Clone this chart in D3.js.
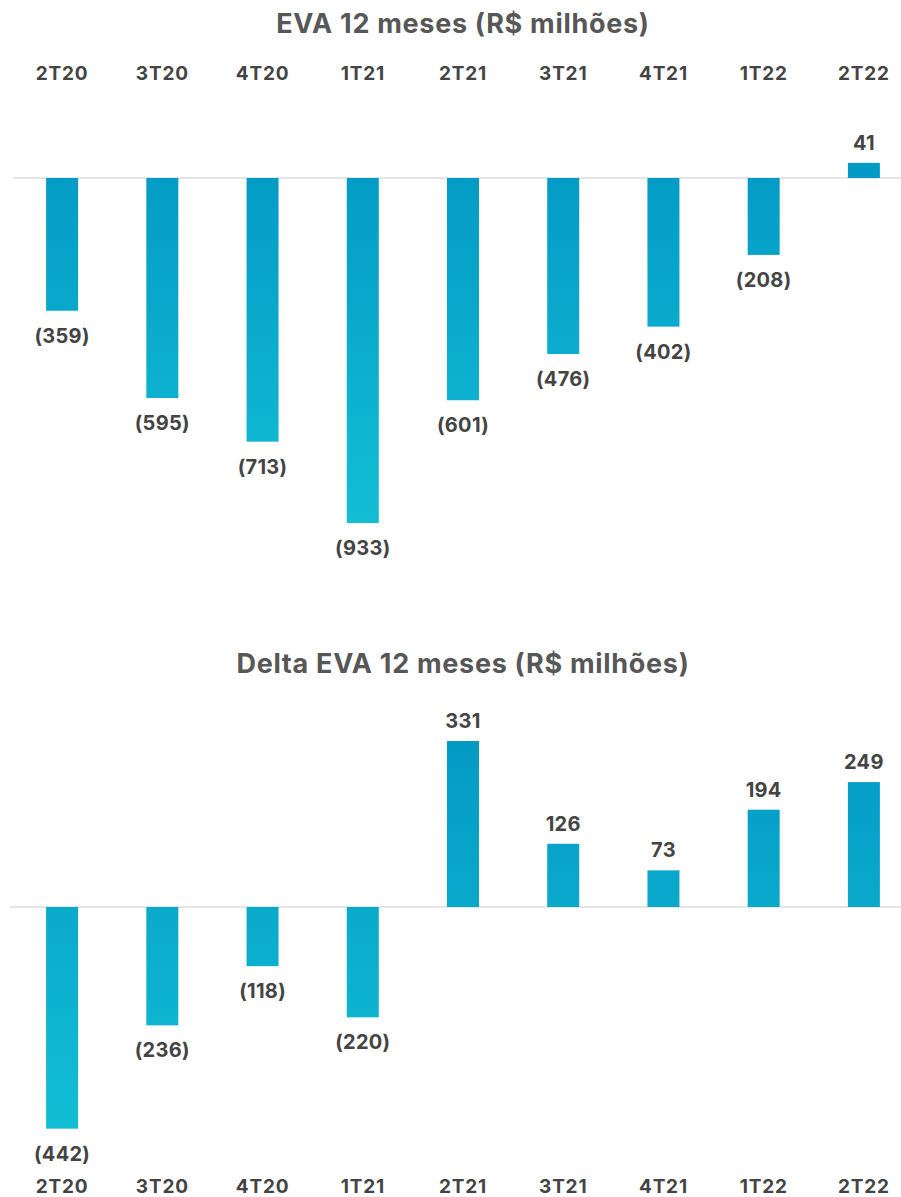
<!DOCTYPE html>
<html><head><meta charset="utf-8">
<script src="https://cdn.jsdelivr.net/npm/d3@7"></script>
<style>
html,body{margin:0;padding:0;background:#fff;}
svg{display:block;font-family:Inter,"Open Sans",sans-serif;}
</style></head>
<body>
<svg id="chart" width="901" height="1197"></svg>
<script>
const categories = ["2T20","3T20","4T20","1T21","2T21","3T21","4T21","1T22","2T22"];
const evaValues = [-359,-595,-713,-933,-601,-476,-402,-208,41];
const deltaValues = [-442,-236,-118,-220,331,126,73,194,249];
const titles = ["EVA 12 meses (R$ milhões)","Delta EVA 12 meses (R$ milhões)"];

const svg = d3.select("#chart");
const W = 901;
const x = d3.scalePoint().domain(categories).range([12, 914]).padding(0.5);
const barW = 32;

const fmt = v => v < 0 ? "(" + Math.abs(v) + ")" : String(v);

const defs = svg.append("defs");
function grad(id, y1, y2){
  const g = defs.append("linearGradient").attr("id", id)
    .attr("gradientUnits","userSpaceOnUse").attr("x1",0).attr("x2",0).attr("y1",y1).attr("y2",y2);
  g.append("stop").attr("offset","0%").attr("stop-color","#039ac5");
  g.append("stop").attr("offset","100%").attr("stop-color","#13bed5");
}

function panel(cfg){
  const {values, y, title, titleY, catY, lineX0, gid} = cfg;
  const g = svg.append("g");
  grad(gid, Math.min(y(0), y(d3.max(values))), y(d3.min(values)));
  g.append("text").attr("x", 463).attr("y", titleY).attr("text-anchor","middle")
    .attr("font-size", 27).attr("font-weight", 700).attr("letter-spacing", 0.7)
    .attr("fill","#575757").text(title);
  g.append("line").attr("x1", lineX0).attr("x2", W).attr("y1", y(0)).attr("y2", y(0))
    .attr("stroke","#dcdcdc").attr("stroke-width",1.5);
  g.selectAll("text.cat").data(categories).join("text").attr("class","cat")
    .attr("x", d => x(d)).attr("y", catY).attr("text-anchor","middle")
    .attr("font-size", 19).attr("font-weight", 700).attr("letter-spacing", 0.8)
    .attr("fill","#444").text(d => d);
  const data = categories.map((c,i) => ({c, v: values[i]}));
  g.selectAll("rect.bar").data(data).join("rect").attr("class","bar")
    .attr("x", d => x(d.c) - barW/2).attr("width", barW)
    .attr("y", d => Math.min(y(0), y(d.v))).attr("height", d => Math.abs(y(d.v) - y(0)))
    .attr("fill", `url(#${gid})`);
  g.selectAll("text.val").data(data).join("text").attr("class","val")
    .attr("x", d => x(d.c)).attr("text-anchor","middle")
    .attr("y", d => d.v < 0 ? y(d.v) + 32 : y(d.v) - 13)
    .attr("font-size", 20).attr("font-weight", 700).attr("letter-spacing", 0.3)
    .attr("fill","#444").text(d => fmt(d.v));
}

const yTop = d3.scaleLinear().domain([0, -933]).range([178, 523]);
panel({values: evaValues, y: yTop, title: titles[0], titleY: 33, catY: 80, lineX0: 13, gid: "g1"});

const yBot = d3.scaleLinear().domain([0, 331]).range([907, 741]);
panel({values: deltaValues, y: yBot, title: titles[1], titleY: 673, catY: 1193, lineX0: 10, gid: "g2"});
</script>
</body></html>
